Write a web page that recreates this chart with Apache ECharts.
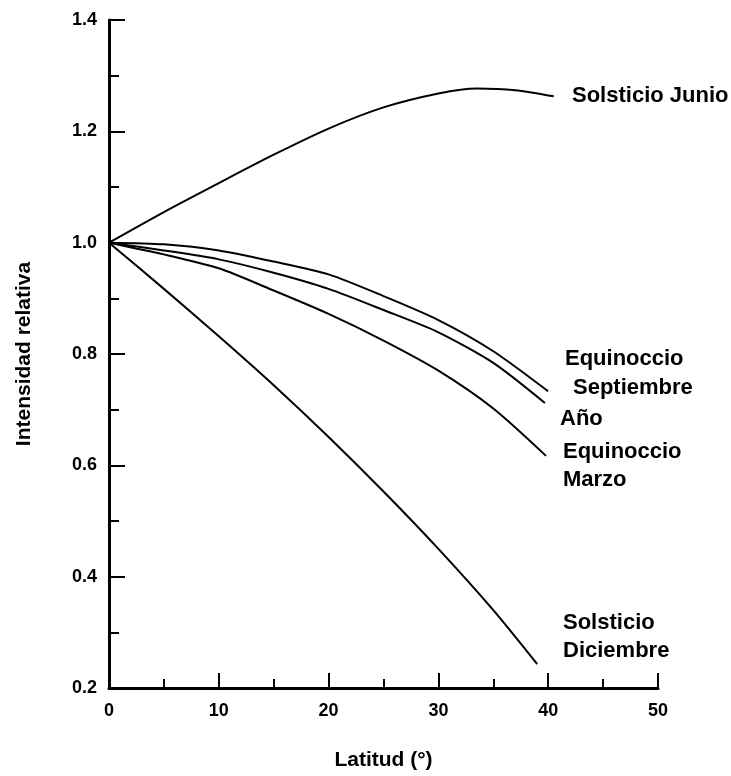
<!DOCTYPE html>
<html>
<head>
<meta charset="utf-8">
<script src="https://cdn.jsdelivr.net/npm/echarts@6/dist/echarts.min.js"></script>
<style>
html,body{margin:0;padding:0;background:#fff;}
#chart{width:731px;height:776px;}
</style>
</head>
<body>
<div id="chart"></div>
<script>
// Latitude (degrees) and relative intensity per curve
const latJunio = [0, 5, 10, 15, 20, 25, 30, 33.5, 37, 40.5];
const solsticioJunio = [1.0, 1.055, 1.107, 1.158, 1.205, 1.243, 1.268, 1.277, 1.274, 1.263];

const latSeptiembre = [0, 5, 10, 15, 20, 25, 30, 35, 40];
const equinoccioSeptiembre = [1.0, 0.997, 0.986, 0.966, 0.943, 0.904, 0.861, 0.805, 0.733];

const latAnio = [0, 5, 10, 15, 20, 25, 30, 35, 39.7];
const anio = [1.0, 0.986, 0.970, 0.946, 0.917, 0.879, 0.839, 0.784, 0.712];

const latMarzo = [0, 5, 10, 15, 20, 25, 30, 35, 39.8];
const equinoccioMarzo = [1.0, 0.979, 0.954, 0.914, 0.872, 0.824, 0.770, 0.702, 0.617];

const latDiciembre = [0, 5, 10, 15, 20, 25, 30, 35, 39];
const solsticioDiciembre = [1.0, 0.917, 0.832, 0.744, 0.651, 0.553, 0.450, 0.340, 0.243];

const xTickLabels = [0, 10, 20, 30, 40, 50];
const yTickLabels = [0.2, 0.4, 0.6, 0.8, 1.0, 1.2, 1.4];

function pairs(xs, ys){ return xs.map((x,i)=>[x, ys[i]]); }

const chart = echarts.init(document.getElementById('chart'), null, {renderer:'canvas'});
const lineStyle = {color:'#000', width:2};
function mk(name, xs, ys){
  return {name, type:'line', data:pairs(xs, ys), smooth:0.25,
          showSymbol:false, symbol:'none', lineStyle, silent:true, animation:false};
}
const font = '"Liberation Sans", Arial, sans-serif';
const lab = (txt, x, y) => ({type:'text', x:x, y:y,
  style:{text:txt, font:'bold 22px ' + font, fill:'#000', verticalAlign:'middle', align:'left'}});

chart.setOption({
  animation:false,
  backgroundColor:'#fff',
  grid:{left:109, right:73, top:20, bottom:86},
  xAxis:{
    type:'value', min:0, max:50, interval:10,
    name:'Latitud (°)', nameLocation:'middle', nameGap:62,
    nameTextStyle:{fontFamily:font, fontWeight:'bold', fontSize:21, color:'#000'},
    axisLine:{lineStyle:{color:'#000', width:3}},
    axisTick:{inside:true, length:15, lineStyle:{color:'#000', width:2}},
    minorTick:{show:true, splitNumber:2, length:9, lineStyle:{color:'#000', width:2}},
    axisLabel:{margin:14, fontFamily:font, fontWeight:'bold', fontSize:18, color:'#000',
      formatter:v => xTickLabels.includes(v) ? String(v) : ''},
    splitLine:{show:false}, minorSplitLine:{show:false}
  },
  yAxis:{
    type:'value', min:0.2, max:1.4, interval:0.2,
    name:'Intensidad relativa', nameLocation:'middle', nameGap:74, nameRotate:90,
    nameTextStyle:{fontFamily:font, fontWeight:'bold', fontSize:21, color:'#000'},
    axisLine:{show:true, lineStyle:{color:'#000', width:3}},
    axisTick:{show:true, inside:true, length:16, lineStyle:{color:'#000', width:2}},
    minorTick:{show:true, splitNumber:2, length:10, lineStyle:{color:'#000', width:2}},
    axisLabel:{margin:12, fontFamily:font, fontWeight:'bold', fontSize:18, color:'#000',
      formatter:v => { const r = Math.round(v*10)/10; return yTickLabels.some(t=>Math.abs(t-r)<1e-6) ? r.toFixed(1) : ''; }},
    splitLine:{show:false}, minorSplitLine:{show:false}
  },
  series:[
    mk('Solsticio Junio', latJunio, solsticioJunio),
    mk('Equinoccio Septiembre', latSeptiembre, equinoccioSeptiembre),
    mk('Año', latAnio, anio),
    mk('Equinoccio Marzo', latMarzo, equinoccioMarzo),
    mk('Solsticio Diciembre', latDiciembre, solsticioDiciembre)
  ],
  graphic:[
    lab('Solsticio Junio', 572, 96),
    lab('Equinoccio', 565, 359),
    lab('Septiembre', 573, 388),
    lab('Año', 560, 419),
    lab('Equinoccio', 563, 452),
    lab('Marzo', 563, 480),
    lab('Solsticio', 563, 623),
    lab('Diciembre', 563, 651)
  ]
});
</script>
</body>
</html>
